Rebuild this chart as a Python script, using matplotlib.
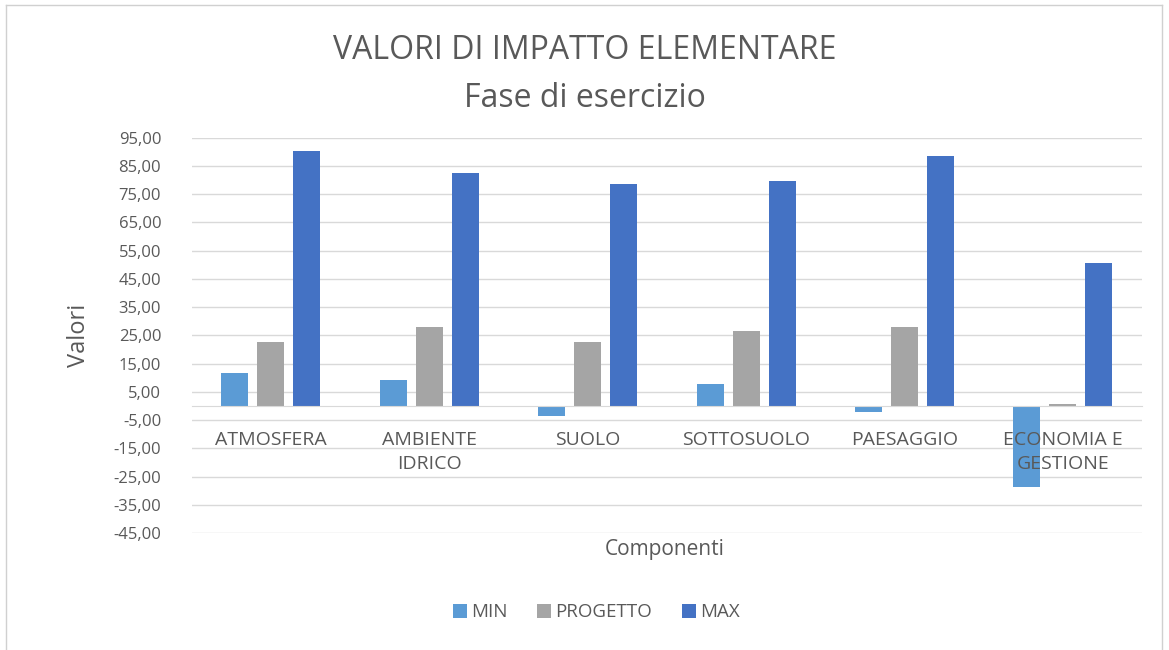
import numpy as np
import matplotlib.pyplot as plt
from matplotlib.ticker import FuncFormatter

# dati
componenti = ['ATMOSFERA', 'AMBIENTE\nIDRICO', 'SUOLO', 'SOTTOSUOLO', 'PAESAGGIO', 'ECONOMIA E\nGESTIONE']
val_min = [11.7, 9.2, -3.5, 7.8, -2.0, -28.7]
val_progetto = [22.7, 28.0, 22.7, 26.6, 28.0, 0.7]
val_max = [90.5, 82.6, 78.7, 79.8, 88.7, 50.7]
serie = ['MIN', 'PROGETTO', 'MAX']
colori = ['#5B9BD5', '#A5A5A5', '#4472C4']
yticks = np.arange(-45, 96, 10)

plt.rcParams['font.family'] = ['Open Sans', 'DejaVu Sans']
testo = '#595959'

fig = plt.figure(figsize=(11.69, 6.5), dpi=100)
ax = fig.add_axes([0.164, 0.18, 0.813, 0.608])

x = np.arange(len(componenti))
w = 0.17
passo = 0.227
for k, (dati, nome, c) in enumerate(zip([val_min, val_progetto, val_max], serie, colori)):
    ax.bar(x + (k - 1) * passo, dati, width=w, color=c, label=nome, zorder=2)

ax.set_xlim(-0.5, len(componenti) - 0.5)
ax.set_ylim(-45, 95)
ax.set_yticks(yticks)
ax.yaxis.set_major_formatter(FuncFormatter(lambda v, p: ('%.2f' % v).replace('.', ',')))
ax.grid(axis='y', color='#D9D9D9', linewidth=1)
ax.set_axisbelow(True)
ax.xaxis.set_zorder(5)  # etichette sopra le barre

for s in ['top', 'right', 'left']:
    ax.spines[s].set_visible(False)
ax.spines['bottom'].set_position(('data', 0))
ax.spines['bottom'].set_color('#D9D9D9')
ax.set_xticks(x)
ax.set_xticklabels(componenti, fontsize=14, color=testo, linespacing=1.45)
ax.tick_params(axis='x', length=0, pad=18)
ax.tick_params(axis='y', length=0, labelsize=12, labelcolor=testo, pad=22)

ax.set_ylabel('Valori', fontsize=17, color=testo, labelpad=16)
fig.text(0.569, 0.155, 'Componenti', fontsize=15, color=testo, ha='center', va='center')

fig.text(0.5, 0.922, 'VALORI DI IMPATTO ELEMENTARE', fontsize=23, color=testo, ha='center', va='center')
fig.text(0.5, 0.849, 'Fase di esercizio', fontsize=23, color=testo, ha='center', va='center')

fig.legend(loc='center', bbox_to_anchor=(0.51, 0.058), ncol=3, frameon=False,
           fontsize=13.5, labelcolor=testo, handlelength=0.75, handleheight=0.75,
           handletextpad=0.2, columnspacing=1.6)

# bordo esterno
fig.add_artist(plt.Line2D([0.005, 0.005], [0, 0.992], color='#D0D0D0', lw=1))
fig.add_artist(plt.Line2D([0.005, 0.994], [0.992, 0.992], color='#D0D0D0', lw=1))
fig.add_artist(plt.Line2D([0.994, 0.994], [0, 0.992], color='#D0D0D0', lw=1))

plt.savefig('out.png', dpi=100)
plt.close()
